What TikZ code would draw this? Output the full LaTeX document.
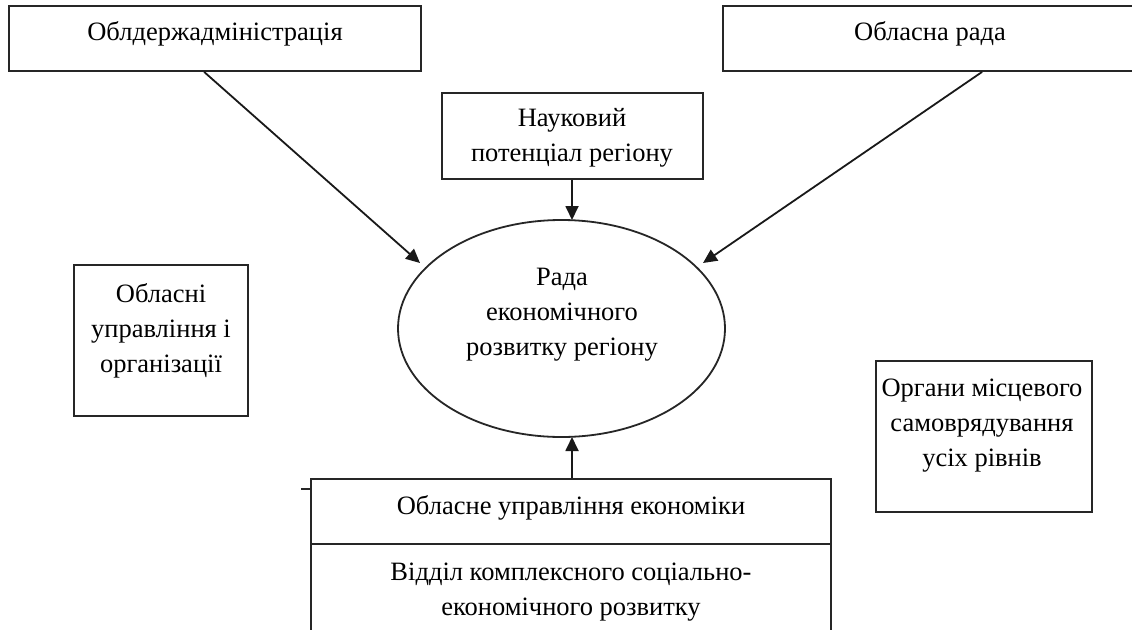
\documentclass[tikz,border=0pt]{standalone}
\usepackage{fontspec}
\setmainfont{Liberation Serif}
\usetikzlibrary{arrows.meta,shapes.geometric,calc}
\tikzset{
  box/.style={draw=black!85, line width=1.8pt, inner sep=0pt},
  lbl/.style={inner sep=0pt, align=center, font=\fontsize{26.5}{35}\selectfont},
  arr/.style={draw=black!90, line width=1.8pt, -{Triangle[length=14pt,width=13pt]}},
}
\begin{document}
\begin{tikzpicture}[x=1pt,y=-1pt]
\useasboundingbox (0,0) rectangle (1132,629);
\clip (0,0) rectangle (1132,629);
\fill[white] (0,0) rectangle (1132,629);
% boxes
\node[box, minimum width=412pt, minimum height=65pt] (tl) at (215,38.5) {};
\node[box, minimum width=417pt, minimum height=65pt] (tr) at (931.5,38.5) {};
\node[box, minimum width=261pt, minimum height=86pt] (nb) at (572.5,136) {};
\node[box, minimum width=174pt, minimum height=151pt] (lb) at (161,340.5) {};
\node[box, minimum width=216pt, minimum height=151pt] (rb) at (984,436.5) {};
\node[box, ellipse, minimum width=327pt, minimum height=217pt] (rada) at (561.5,328.5) {};
\node[box, minimum width=520pt, minimum height=65pt] (ob) at (571,511.5) {};
\node[box, minimum width=520pt, minimum height=126pt] (vd) at (571,607) {};
% texts
\node[lbl] (tlt) at (215,34) {Облдержадміністрація};
\node[lbl] (trt) at (930,34) {Обласна рада};
\node[lbl] (nbt) at (572,138) {Науковий\\потенціал регіону};
\node[lbl] (radat) at (562,315) {Рада\\економічного\\розвитку регіону};
\node[lbl] (lbt) at (161,330.5) {Обласні\\управління і\\організації};
\node[lbl] (rbt) at (982,425.5) {Органи місцевого\\самоврядування\\усіх рівнів};
\node[lbl] (obt) at (571,508) {Обласне управління економіки};
\node[lbl] (vdt) at (571,592.5) {Відділ комплексного соціально-\\економічного розвитку};
% connectors
\coordinate (e1) at (420,263);
\coordinate (e2) at (703,263);
\coordinate (e3) at (572,220);
\coordinate (e4) at (572,437);
\draw[arr] (tl.south west) ++(196,0) -- (e1);
\draw[arr] (tr.south west) ++(260,0) -- (e2);
\draw[arr] (nb.south -| e3) -- (e3);
\draw[arr] (ob.north -| e4) -- (e4);
% stray tick
\draw[line width=2.5pt, black!85] (ob.north west) ++(-9,11) -- ++(9,0);
\end{tikzpicture}
\end{document}
